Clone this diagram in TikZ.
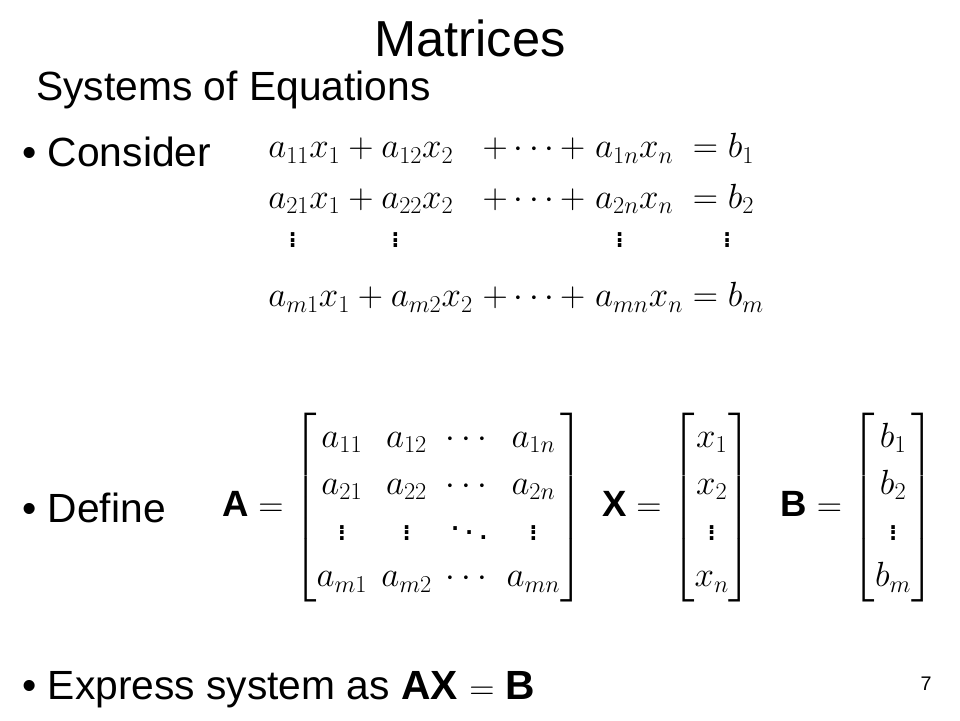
\documentclass[tikz,border=0pt]{standalone}
\usepackage{amsmath}
\usepackage{fontspec}
\setmainfont{Liberation Sans}
\usetikzlibrary{positioning}
\tikzset{body/.style={font=\fontsize{29}{33}\selectfont, anchor=west, inner sep=0pt},
  mathbox/.style={font=\fontsize{26}{30}\selectfont, inner sep=0pt}}
\begin{document}
\begin{tikzpicture}
\useasboundingbox (0,0) rectangle (24,18);
\node[font=\fontsize{36}{40}\selectfont, inner sep=0pt] (title) at (11.75,17.05) {Matrices};
\node[body] (sub) at (0.9,15.75) {Systems of Equations};
\node[body] (consider) at (0.55,14.2) {\textbullet\ Consider};
\node[body] (define) at (0.55,5.3) {\textbullet\ Define};
\node[body] (express) at (0.55,0.75) {\textbullet\ Express system as \textbf{AX} $=$ \textbf{B}};
\node[font=\fontsize{14}{16}\selectfont] (page) at (23.15,0.9) {7};
% system
\node[mathbox, anchor=north west] (sys) at (6.7,14.8) {$\begin{array}{@{}l@{\;}l@{\;}l@{\;}l@{}}
a_{11}x_1 + a_{12}x_2 & + \cdots + & a_{1n}x_n & = b_1\\[6pt]
a_{21}x_1 + a_{22}x_2 & + \cdots + & a_{2n}x_n & = b_2\\[-2pt]
\;\;\vdots \qquad\;\; \vdots & & \;\;\vdots & \;\;\;\vdots\\[12pt]
a_{m1}x_1 + a_{m2}x_2 & + \cdots + & a_{mn}x_n & = b_m
\end{array}$};
% matrices
\node[mathbox, anchor=west] (A) at (5.55,5.3) {$\renewcommand{\arraystretch}{1.1}\mathbf{A}=\begin{bmatrix}
a_{11} & a_{12} & \cdots & a_{1n}\\ a_{21} & a_{22} & \cdots & a_{2n}\\
\vdots & \vdots & \ddots & \vdots\\ a_{m1} & a_{m2} & \cdots & a_{mn}\end{bmatrix}$};
\node[mathbox, right=0.45 of A] (X) {$\renewcommand{\arraystretch}{1.1}\mathbf{X}=\begin{bmatrix} x_1\\ x_2\\ \vdots\\ x_n\end{bmatrix}$};
\node[mathbox, right=0.7 of X] (B) {$\renewcommand{\arraystretch}{1.1}\mathbf{B}=\begin{bmatrix} b_1\\ b_2\\ \vdots\\ b_m\end{bmatrix}$};
\end{tikzpicture}
\end{document}
